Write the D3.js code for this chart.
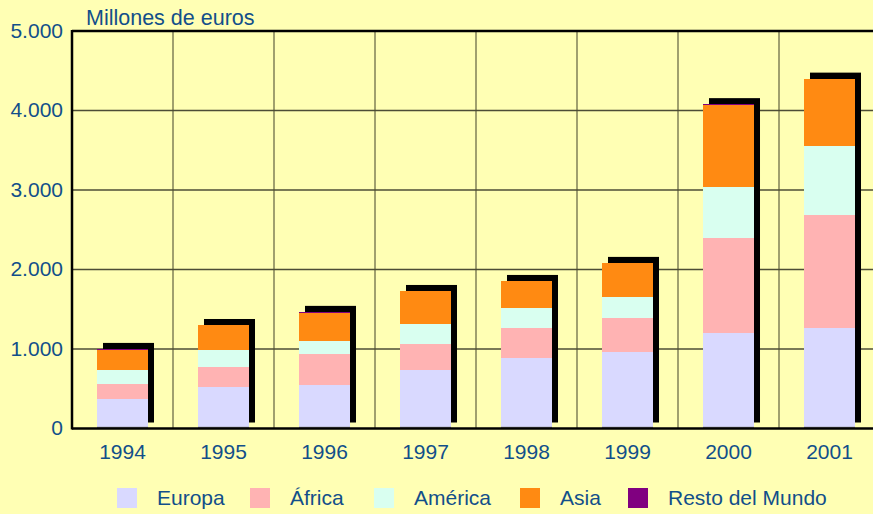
<!DOCTYPE html>
<html>
<head>
<meta charset="utf-8">
<script src="https://cdn.jsdelivr.net/npm/d3@7"></script>
<style>
  html, body { margin: 0; padding: 0; background: #ffffb4; }
  svg { display: block; font-family: "Liberation Sans", Arial, sans-serif; }
</style>
</head>
<body>
<svg width="873" height="514"></svg>
<script>
// datos (millones de euros)
var years = ["1994", "1995", "1996", "1997", "1998", "1999", "2000", "2001"];
var europa = [365, 516, 547, 730, 882, 957, 1201, 1264];
var africa = [190, 252, 390, 328, 378, 428, 1195, 1422];
var america = [175, 214, 164, 252, 251, 265, 645, 867];
var asia = [261, 315, 356, 415, 340, 428, 1027, 843];
var resto = [10, 5, 10, 5, 5, 5, 12, 5];

var seriesNames = ["Europa", "África", "América", "Asia", "Resto del Mundo"];
var seriesKeys = ["europa", "africa", "america", "asia", "resto"];
var colores = ["#d9d9ff", "#ffb3b3", "#d9fff0", "#ff8a12", "#800080"];
var yTicks = [0, 1000, 2000, 3000, 4000, 5000];

var textColor = "#124f8a";

var table = years.map(function (y, i) {
    return { year: y, europa: europa[i], africa: africa[i], america: america[i], asia: asia[i], resto: resto[i] };
});

var svg = d3.select("svg");
var margin = { left: 72, top: 31, bottom: 428.5, right: 880 };

var x = d3.scaleBand()
    .domain(years)
    .range([margin.left, margin.right])
    .paddingInner(0.495)
    .paddingOuter(0.2475);

var y = d3.scaleLinear()
    .domain([0, 5000])
    .range([margin.bottom, margin.top]);

var step = x.step();
var gap = (step - x.bandwidth()) / 2;
var fmt = function (v) { return d3.format(",")(v).replace(/,/g, "."); };

// rejilla
var grid = svg.append("g");
grid.selectAll("line.h")
    .data(yTicks.slice(1, 5))
    .enter().append("line")
    .attr("x1", margin.left).attr("x2", margin.right)
    .attr("y1", function (d) { return y(d); })
    .attr("y2", function (d) { return y(d); })
    .attr("stroke", "#2e2e20")
    .attr("stroke-opacity", 0.85)
    .attr("stroke-width", 1.5);

grid.selectAll("line.v")
    .data(years.slice(1))
    .enter().append("line")
    .attr("x1", function (d) { return x(d) - gap; })
    .attr("x2", function (d) { return x(d) - gap; })
    .attr("y1", y(5000)).attr("y2", y(0))
    .attr("stroke", "#4a4a30")
    .attr("stroke-opacity", 0.7)
    .attr("stroke-width", 1.5);

// sombras de las barras
var stack = d3.stack().keys(seriesKeys);
var stacked = stack(table);
var totals = table.map(function (d) {
    return seriesKeys.reduce(function (s, k) { return s + d[k]; }, 0);
});

svg.append("g")
    .selectAll("rect")
    .data(years)
    .enter().append("rect")
    .attr("x", function (d) { return x(d) + 6; })
    .attr("y", function (d, i) { return y(totals[i]) - 6; })
    .attr("width", x.bandwidth())
    .attr("height", function (d, i) { return y(0) - y(totals[i]); })
    .attr("fill", "#000");

// barras apiladas
svg.append("g")
    .attr("shape-rendering", "crispEdges")
    .selectAll("g")
    .data(stacked)
    .enter().append("g")
    .attr("fill", function (d, i) { return colores[i]; })
    .selectAll("rect")
    .data(function (d) { return d; })
    .enter().append("rect")
    .attr("x", function (d) { return x(d.data.year); })
    .attr("y", function (d) { return y(d[1]); })
    .attr("width", x.bandwidth())
    .attr("height", function (d) { return y(d[0]) - y(d[1]); });

// linea gris en la base de cada barra
svg.append("g")
    .selectAll("line")
    .data(years)
    .enter().append("line")
    .attr("x1", function (d) { return x(d); })
    .attr("x2", function (d) { return x(d) + x.bandwidth(); })
    .attr("y1", y(0) - 1).attr("y2", y(0) - 1)
    .attr("stroke", "#8a8a8a")
    .attr("stroke-width", 1.5);

// ejes
svg.append("line")
    .attr("x1", margin.left).attr("x2", margin.right)
    .attr("y1", y(5000)).attr("y2", y(5000))
    .attr("stroke", "#000").attr("stroke-width", 2.5);
svg.append("line")
    .attr("x1", margin.left).attr("x2", margin.right)
    .attr("y1", y(0)).attr("y2", y(0))
    .attr("stroke", "#000").attr("stroke-width", 2.5);
svg.append("line")
    .attr("x1", margin.left).attr("x2", margin.left)
    .attr("y1", y(5000) - 1).attr("y2", y(0) + 1)
    .attr("stroke", "#000").attr("stroke-width", 2.5);

svg.append("g")
    .selectAll("text")
    .data(yTicks)
    .enter().append("text")
    .attr("x", 63)
    .attr("y", function (d) { return y(d); })
    .attr("dy", "0.33em")
    .attr("text-anchor", "end")
    .attr("font-size", 21)
    .attr("fill", textColor)
    .text(fmt);

svg.append("g")
    .selectAll("text")
    .data(years)
    .enter().append("text")
    .attr("x", function (d) { return x(d) + x.bandwidth() / 2; })
    .attr("y", 459)
    .attr("text-anchor", "middle")
    .attr("font-size", 21)
    .attr("fill", textColor)
    .text(function (d) { return d; });

svg.append("text")
    .attr("x", 86)
    .attr("y", 25)
    .attr("font-size", 21.5)
    .attr("fill", textColor)
    .text("Millones de euros");

// leyenda
var legendX = [117, 250, 374, 520, 628];
var legend = svg.append("g")
    .selectAll("g")
    .data(seriesNames)
    .enter().append("g")
    .attr("transform", function (d, i) { return "translate(" + legendX[i] + ",488)"; });

legend.append("rect")
    .attr("width", 20)
    .attr("height", 20)
    .attr("fill", function (d, i) { return colores[i]; });

legend.append("text")
    .attr("x", 40)
    .attr("y", 10)
    .attr("dy", "0.35em")
    .attr("font-size", 21)
    .attr("fill", textColor)
    .text(function (d) { return d; });
</script>
</body>
</html>
